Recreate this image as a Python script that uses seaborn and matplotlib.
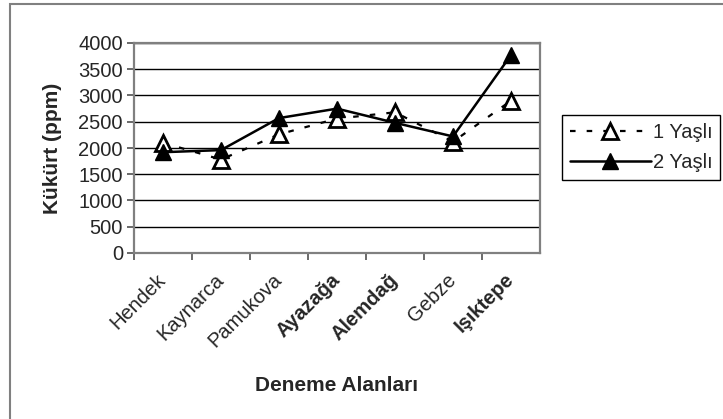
import matplotlib
matplotlib.use("Agg")
import matplotlib.pyplot as plt
from matplotlib.patches import Rectangle
import seaborn as sns
import pandas as pd

# Sulphur content per trial site, for one- and two-year-old needles
categories = ['Hendek', 'Kaynarca', 'Pamukova', 'Ayazağa', 'Alemdağ', 'Gebze', 'Işıktepe']
yasli_1 = [2100, 1780, 2260, 2560, 2680, 2120, 2900]
yasli_2 = [1920, 1960, 2570, 2750, 2480, 2220, 3770]
series_labels = ['1 Yaşlı', '2 Yaşlı']
y_ticks = [0, 500, 1000, 1500, 2000, 2500, 3000, 3500, 4000]
bold_sites = {'Ayazağa', 'Alemdağ', 'Işıktepe'}

sns.set_theme(style="white")
plt.rcParams['font.family'] = ['Liberation Sans', 'DejaVu Sans']

FS = 14.5
W, H = 723, 419
fig = plt.figure(figsize=(W / 100, H / 100), dpi=100)
fig.patch.set_facecolor('white')

# outer chart frame
fig.add_artist(Rectangle((10 / W, -0.05), 1.2, 1 - 4 / H + 0.05,
                         transform=fig.transFigure, fill=False,
                         edgecolor='#808080', linewidth=1.5))

ax = fig.add_axes([134 / W, 1 - 253 / H, (540 - 134) / W, (253 - 43) / H])

df1 = pd.DataFrame({'alan': categories, 'kukurt': yasli_1})
df2 = pd.DataFrame({'alan': categories, 'kukurt': yasli_2})

sns.lineplot(data=df1, x='alan', y='kukurt', ax=ax, sort=False,
             color='black', linewidth=1.6, dashes=False,
             linestyle=(0, (2.5, 5)), marker='^', markersize=11,
             markerfacecolor='white', markeredgecolor='black',
             markeredgewidth=2, label=series_labels[0], zorder=3)
sns.lineplot(data=df2, x='alan', y='kukurt', ax=ax, sort=False,
             color='black', linewidth=1.8, marker='^', markersize=11,
             markerfacecolor='black', markeredgecolor='black',
             markeredgewidth=1, label=series_labels[1], zorder=4)

ax.set_xlim(-0.5, len(categories) - 0.5)
ax.set_ylim(0, 4000)
ax.set_yticks(y_ticks)
ax.set_yticklabels([str(v) for v in y_ticks], fontsize=FS)
ax.yaxis.grid(True, color='black', linewidth=1)
ax.xaxis.grid(False)
ax.set_axisbelow(True)

# category boundaries carry the tick marks, names sit between them
ax.set_xticks([i - 0.5 for i in range(len(categories))])
ax.set_xticklabels([])
ax.set_xticks(range(len(categories)), minor=True)
ax.set_xticklabels(categories, minor=True, rotation=45, ha='right',
                   va='center', rotation_mode='anchor', fontsize=FS)
for lbl in ax.get_xticklabels(minor=True):
    if lbl.get_text() in bold_sites:
        lbl.set_fontweight('bold')
ax.tick_params(axis='x', which='minor', length=0, pad=17)
ax.tick_params(axis='x', which='major', length=5, width=1.2,
               color='#505050', direction='out', bottom=True)
ax.tick_params(axis='y', length=5, width=1.2, color='#505050',
               direction='out', left=True, pad=3)

for s in ax.spines.values():
    s.set_visible(True)
    s.set_color('#808080')
    s.set_linewidth(1.6)

ax.set_xlabel('Deneme Alanları', fontsize=FS + 0.5, fontweight='bold', labelpad=18)
ax.set_ylabel('Kükürt (ppm)', fontsize=FS + 0.5, fontweight='bold', labelpad=12)
if ax.legend_:
    ax.legend_.remove()

handles, labels = ax.get_legend_handles_labels()
leg = fig.legend(handles, labels, loc='upper left',
                 bbox_to_anchor=(562 / W, 1 - 115 / H),
                 frameon=True, fancybox=False, framealpha=1,
                 edgecolor='black', fontsize=FS, handlelength=4.0,
                 handletextpad=0.1, labelspacing=0.55, borderpad=0.4,
                 borderaxespad=0)
leg.get_frame().set_linewidth(1)

fig.savefig('out.png', dpi=100, facecolor='white')
